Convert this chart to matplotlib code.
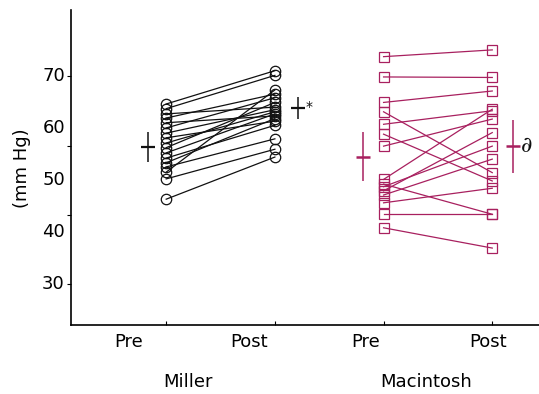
import matplotlib
matplotlib.use("Agg")
import matplotlib.pyplot as plt
from matplotlib.transforms import blended_transform_factory

plt.rcParams['font.family'] = ['DejaVu Sans']

# Miller: pre / post pressure per subject (mm Hg)
miller_pre = [64.7, 63.8, 62.8, 62.0, 61.1, 60.1, 59.1, 58.2, 57.2, 56.3,
              55.3, 54.3, 53.4, 52.6, 51.6, 50.3, 46.4]
miller_post = [71.1, 70.2, 64.1, 66.6, 62.4, 65.9, 63.6, 61.4, 63.2, 65.0,
               62.8, 60.6, 61.9, 58.0, 67.4, 56.0, 54.5]

# Macintosh: pre / post
mac_pre = [73.8, 69.9, 65.0, 63.2, 60.8, 58.9, 56.6, 50.2, 49.3, 48.8,
           48.0, 47.2, 45.7, 43.5, 40.9]
mac_post = [75.1, 69.8, 67.2, 51.5, 63.4, 49.9, 61.8, 63.7, 43.5, 56.6,
            59.2, 54.1, 48.5, 43.5, 37.0]

# group means and error bars
miller_mean = [56.4, 63.9]
miller_err = [2.9, 2.1]
mac_mean = [54.6, 56.6]
mac_err = [4.8, 5.1]

tick_labels = ['Pre', 'Post', 'Pre', 'Post']
groups = ['Miller', 'Macintosh']
y_labels = [30, 40, 50, 60, 70]

black = '#111111'
mag = '#a8205f'

fig = plt.figure(figsize=(5.39, 3.94), dpi=100)
ax = fig.add_axes([0.1317, 0.175, 0.8683, 0.80])

# one line per subject, pre -> post
for a, b in zip(miller_pre, miller_post):
    ax.plot([1, 2], [a, b], color=black, lw=0.9, marker='o', ms=7.5,
            mfc='none', mec=black, mew=0.9)
for a, b in zip(mac_pre, mac_post):
    ax.plot([3, 4], [a, b], color=mag, lw=0.9, marker='s', ms=7.2,
            mfc='none', mec=mag, mew=0.9)

# mean +/- error markers beside each column
ax.errorbar([0.834, 2.217], miller_mean, yerr=miller_err, fmt='_', ms=10,
            mew=1.6, elinewidth=1.1, capsize=0, color=black)
ax.errorbar([2.81, 4.19], mac_mean, yerr=mac_err, fmt='_', ms=10,
            mew=1.8, elinewidth=1.1, capsize=0, color=mag)

ax.text(2.31, miller_mean[1] + 0.3, '*', fontsize=10, ha='center', va='center',
        color=black)
ax.text(4.32, mac_mean[1], '∂', fontsize=16, ha='center', va='center',
        color=black, family='DejaVu Serif', style='italic')

ax.set_xlim(0.124, 4.43)
ax.set_ylim(22.2, 82.8)

ax.spines['top'].set_visible(False)
ax.spines['right'].set_visible(False)
ax.spines['left'].set_linewidth(1.2)
ax.spines['bottom'].set_linewidth(1.2)

ax.set_xticks([1, 2, 3, 4])
ax.set_xticklabels([])
ax.tick_params(axis='x', direction='in', length=3, width=0.8)
ax.set_yticks([30, 43.33, 56.67, 70])
ax.set_yticklabels([])
ax.tick_params(axis='y', direction='out', length=3, width=0.8)

ty = blended_transform_factory(ax.transAxes, ax.transData)
for v in y_labels:
    ax.text(-0.013, v, str(v), transform=ty, ha='right', va='center',
            fontsize=13)

tf = blended_transform_factory(ax.transData, fig.transFigure)
for x, t in zip([0.65, 1.765, 2.834, 3.958], tick_labels):
    ax.text(x, 0.132, t, transform=tf, ha='center', va='center', fontsize=13)
for x, g in zip([1.203, 3.387], groups):
    ax.text(x, 0.0305, g, transform=tf, ha='center', va='center', fontsize=13)

fig.text(22 / 539, 1 - 168 / 394, '(mm Hg)', rotation=90, ha='center',
         va='center', fontsize=13)

fig.savefig('out.png', dpi=100)
